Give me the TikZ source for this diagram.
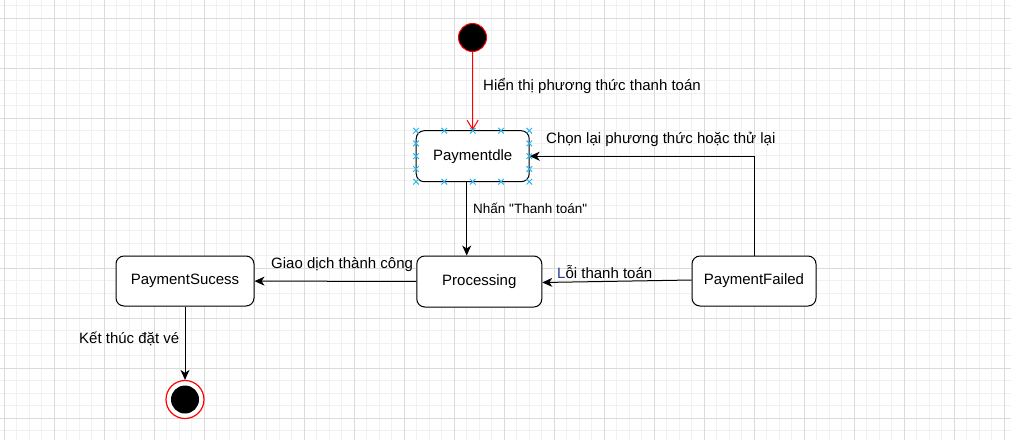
\documentclass[tikz,border=0pt]{standalone}
\usepackage{fontspec}
\setmainfont{Liberation Sans}[Ligatures=TeXOff]
\usetikzlibrary{arrows.meta, positioning}
\definecolor{gridmajor}{RGB}{219,219,219}
\definecolor{gridminor}{RGB}{241,241,241}
\definecolor{handle}{RGB}{41,182,242}
\definecolor{lblue}{RGB}{40,60,150}
\tikzset{>={Stealth[length=10pt,width=9pt,inset=3pt]},
stbox/.style={draw, line width=1pt, rounded corners=8pt, fill=white,
  font=\fontsize{15}{18}\selectfont},
initst/.style={circle, draw=red, fill=black, line width=1pt, minimum size=28pt, inner sep=0pt},
finst/.style={circle, draw=red, fill=white, line width=1.2pt, minimum size=38pt, inner sep=0pt},
tr/.style={->, line width=1pt},
lbl/.style={font=\fontsize{15}{18}\selectfont, inner sep=0pt, anchor=base west},
hdl/.style={handle, line width=1pt},
}
\newcommand{\hcross}[2]{\draw[hdl] (#1,#2) +(-2.8,-2.8) -- +(2.8,2.8) +(-2.8,2.8) -- +(2.8,-2.8);}

\begin{document}
\begin{tikzpicture}[x=1pt,y=-1pt]
\useasboundingbox (0,0) rectangle (1011,440);
% grid
\foreach \x in {4,16.5,...,1011} \draw[gridminor] (\x,0) -- (\x,440);
\foreach \y in {5.5,18,...,440} \draw[gridminor] (0,\y) -- (1011,\y);
\foreach \x in {4,54,...,1011} \draw[gridmajor] (\x,0) -- (\x,440);
\foreach \y in {18,68,...,440} \draw[gridmajor] (0,\y) -- (1011,\y);

    \node[initst] (start) at (472.5,37.5) {};
    \node[stbox, minimum width=113pt, minimum height=51pt] (idle) at (472.7,156.2) {Paymentdle};
    \node[stbox, minimum width=125pt, minimum height=51pt] (proc) at (479.3,281.5) {Processing};
    \node[stbox, minimum width=138pt, minimum height=50pt] (succ) at (185,281) {PaymentSucess};
    \node[stbox, minimum width=124pt, minimum height=50pt] (fail) at (754,281) {PaymentFailed};
    \node[finst] (stop) at (185,399.5) {};
    \fill (stop.center) circle (14pt);

    \draw[tr, red, >={Straight Barb[length=9pt,width=11pt]}] (start) -- (idle);
    \draw[tr] ([xshift=-6pt]idle.south) coordinate (ia) -- (ia |- proc.north);
    \draw[tr] (proc) -- (succ);
    \draw[tr] ([yshift=1pt]fail.west) -- ([yshift=-1pt]proc.east);
    \draw[tr] (fail.north) |- (idle.east);
    \draw[tr] (succ) -- (stop);

    \node[lbl] (l1) at (483,90) {Hiển thị phương thức thanh toán};
    \node[lbl] (l2) at (546,143) {Chọn lại phương thức hoặc thử lại};
    \node[lbl, font=\fontsize{13.5}{16}\selectfont] (l3) at (473,213) {Nhấn "Thanh toán"};
    \node[lbl] (l4) at (271,268) {Giao dịch thành công};
    \node[lbl] (l5) at (557,278) {{\color{lblue}L}ỗi thanh toán};
    \node[lbl] (l6) at (79,343) {Kết thúc đặt vé};

% handles on Paymentdle
\foreach \x in {416,444.3,472.7,501,529.3} {\hcross{\x}{130.7} \hcross{\x}{181.7}}
\foreach \y in {143.4,156.2,169} {\hcross{416}{\y} \hcross{529.3}{\y}}
\end{tikzpicture}
\end{document}
